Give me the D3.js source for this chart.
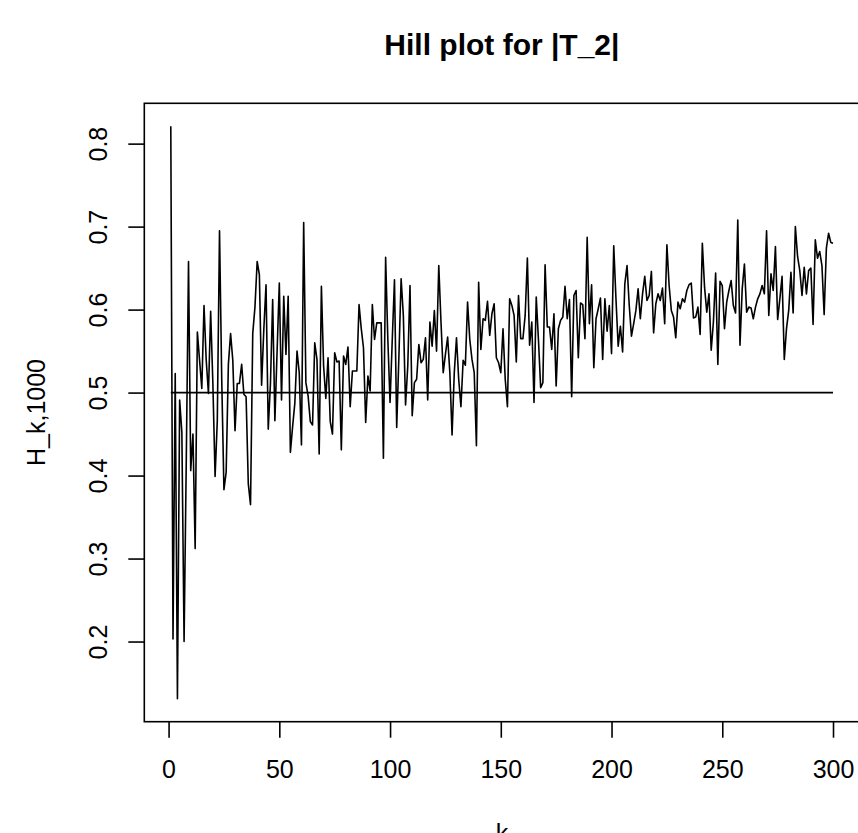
<!DOCTYPE html>
<html>
<head>
<meta charset="utf-8">
<script src="https://cdn.jsdelivr.net/npm/d3@7"></script>
<style>
  html, body { margin: 0; padding: 0; background: #fff; }
  svg { display: block; }
  text { font-family: "Liberation Sans", Arial, Helvetica, sans-serif; fill: #000; }
</style>
</head>
<body>
<svg id="chart" width="858" height="833"></svg>
<script>
// ---- Data ----
const title = "Hill plot for |T_2|";
const xLabel = "k";
const yLabel = "H_k,1000";
const xTicks = [0, 50, 100, 150, 200, 250, 300];
const yTicks = [0.2, 0.3, 0.4, 0.5, 0.6, 0.7, 0.8];
const refLevel = 0.5;
const refFrom = 1;
const refTo = 300;
const hill = [
  0.821,0.203,0.523,0.131,0.491,0.452,0.200,0.420,0.658,0.406,
  0.450,0.312,0.573,0.539,0.505,0.605,0.539,0.499,0.598,0.511,
  0.399,0.466,0.695,0.516,0.383,0.404,0.534,0.571,0.539,0.454,
  0.511,0.511,0.534,0.498,0.495,0.390,0.365,0.571,0.603,0.658,
  0.642,0.509,0.576,0.630,0.456,0.511,0.612,0.466,0.550,0.632,
  0.491,0.616,0.546,0.616,0.428,0.459,0.487,0.550,0.524,0.437,
  0.705,0.512,0.496,0.465,0.461,0.560,0.540,0.426,0.628,0.532,
  0.493,0.542,0.465,0.450,0.548,0.537,0.538,0.431,0.544,0.534,
  0.555,0.483,0.526,0.526,0.526,0.606,0.577,0.554,0.464,0.520,
  0.502,0.606,0.564,0.584,0.584,0.584,0.421,0.663,0.564,0.488,
  0.564,0.636,0.458,0.544,0.637,0.593,0.485,0.532,0.629,0.472,
  0.512,0.516,0.558,0.536,0.540,0.566,0.491,0.585,0.556,0.599,
  0.550,0.653,0.585,0.524,0.546,0.567,0.524,0.449,0.524,0.566,
  0.516,0.483,0.539,0.533,0.609,0.564,0.540,0.524,0.436,0.633,
  0.552,0.589,0.587,0.610,0.569,0.595,0.607,0.542,0.536,0.524,
  0.577,0.516,0.483,0.613,0.605,0.593,0.537,0.617,0.565,0.565,
  0.593,0.662,0.557,0.585,0.488,0.615,0.564,0.506,0.512,0.654,
  0.579,0.579,0.552,0.595,0.508,0.577,0.587,0.591,0.628,0.589,
  0.612,0.495,0.617,0.623,0.542,0.608,0.606,0.565,0.687,0.583,
  0.630,0.530,0.589,0.601,0.614,0.540,0.613,0.574,0.605,0.547,
  0.677,0.613,0.556,0.580,0.549,0.631,0.653,0.605,0.568,0.583,
  0.599,0.625,0.589,0.619,0.640,0.611,0.617,0.646,0.572,0.607,
  0.619,0.611,0.626,0.583,0.678,0.629,0.599,0.591,0.566,0.609,
  0.601,0.613,0.609,0.623,0.630,0.632,0.590,0.591,0.603,0.570,
  0.680,0.627,0.597,0.619,0.551,0.585,0.644,0.534,0.634,0.629,
  0.577,0.609,0.623,0.635,0.605,0.596,0.708,0.557,0.625,0.655,
  0.597,0.603,0.602,0.589,0.603,0.613,0.619,0.629,0.619,0.695,
  0.593,0.643,0.623,0.676,0.588,0.613,0.640,0.540,0.577,0.599,
  0.645,0.596,0.700,0.664,0.647,0.617,0.651,0.619,0.647,0.650,
  0.582,0.684,0.662,0.670,0.653,0.594,0.674,0.692,0.681,0.680
];
const kValues = d3.range(1, hill.length + 1);

// ---- Layout (R-like plot region) ----
const plotLeft = 144.3, plotRight = 859.5, plotTop = 103.3, plotBottom = 721.7;
const baseFont = 25;
const lw = 1.6;

function padExtent(ext) {
  const d = (ext[1] - ext[0]) * 0.04;
  return [ext[0] - d, ext[1] + d];
}

const x = d3.scaleLinear().domain(padExtent(d3.extent(kValues))).range([plotLeft, plotRight]);
const y = d3.scaleLinear().domain(padExtent(d3.extent(hill))).range([plotBottom, plotTop]);

const svg = d3.select("#chart");
svg.append("rect").attr("width", 858).attr("height", 833).attr("fill", "#fff");

// Title
svg.append("text")
  .attr("x", (plotLeft + plotRight) / 2)
  .attr("y", 55)
  .attr("text-anchor", "middle")
  .attr("font-size", 30)
  .attr("font-weight", "bold")
  .text(title);

// Data line
const line = d3.line().x((d, i) => x(kValues[i])).y(d => y(d));
svg.append("path")
  .datum(hill)
  .attr("d", line)
  .attr("fill", "none")
  .attr("stroke", "#000")
  .attr("stroke-width", lw)
  .attr("stroke-linejoin", "round");

// Reference line
svg.append("line")
  .attr("x1", x(refFrom)).attr("x2", x(refTo))
  .attr("y1", y(refLevel)).attr("y2", y(refLevel))
  .attr("stroke", "#000").attr("stroke-width", lw);

// Box
svg.append("rect")
  .attr("x", plotLeft).attr("y", plotTop)
  .attr("width", plotRight - plotLeft).attr("height", plotBottom - plotTop)
  .attr("fill", "none").attr("stroke", "#000").attr("stroke-width", lw);

// X axis
const xAxis = d3.axisBottom(x).tickValues(xTicks).tickSize(16).tickPadding(23)
  .tickFormat(d3.format("d"));
const gx = svg.append("g").attr("transform", `translate(0,${plotBottom})`).call(xAxis);
gx.select(".domain").remove();
gx.selectAll("line").attr("stroke", "#000").attr("stroke-width", lw);
gx.selectAll("text").attr("font-size", baseFont).attr("font-family", "Liberation Sans, Arial, sans-serif");

// Y axis
const yAxis = d3.axisLeft(y).tickValues(yTicks).tickSize(16).tickFormat(d3.format(".1f"));
const gy = svg.append("g").attr("transform", `translate(${plotLeft},0)`).call(yAxis);
gy.select(".domain").remove();
gy.selectAll("line").attr("stroke", "#000").attr("stroke-width", lw);
gy.selectAll("text")
  .attr("font-size", baseFont)
  .attr("font-family", "Liberation Sans, Arial, sans-serif")
  .attr("x", null).attr("dy", null)
  .attr("text-anchor", "middle")
  .attr("transform", "translate(-37,0) rotate(-90)");

// Axis labels
svg.append("text")
  .attr("x", (plotLeft + plotRight) / 2)
  .attr("y", 842)
  .attr("text-anchor", "middle")
  .attr("font-size", baseFont)
  .text(xLabel);

svg.append("text")
  .attr("transform", `translate(45,${(plotTop + plotBottom) / 2}) rotate(-90)`)
  .attr("text-anchor", "middle")
  .attr("font-size", baseFont)
  .text(yLabel);
</script>
</body>
</html>
